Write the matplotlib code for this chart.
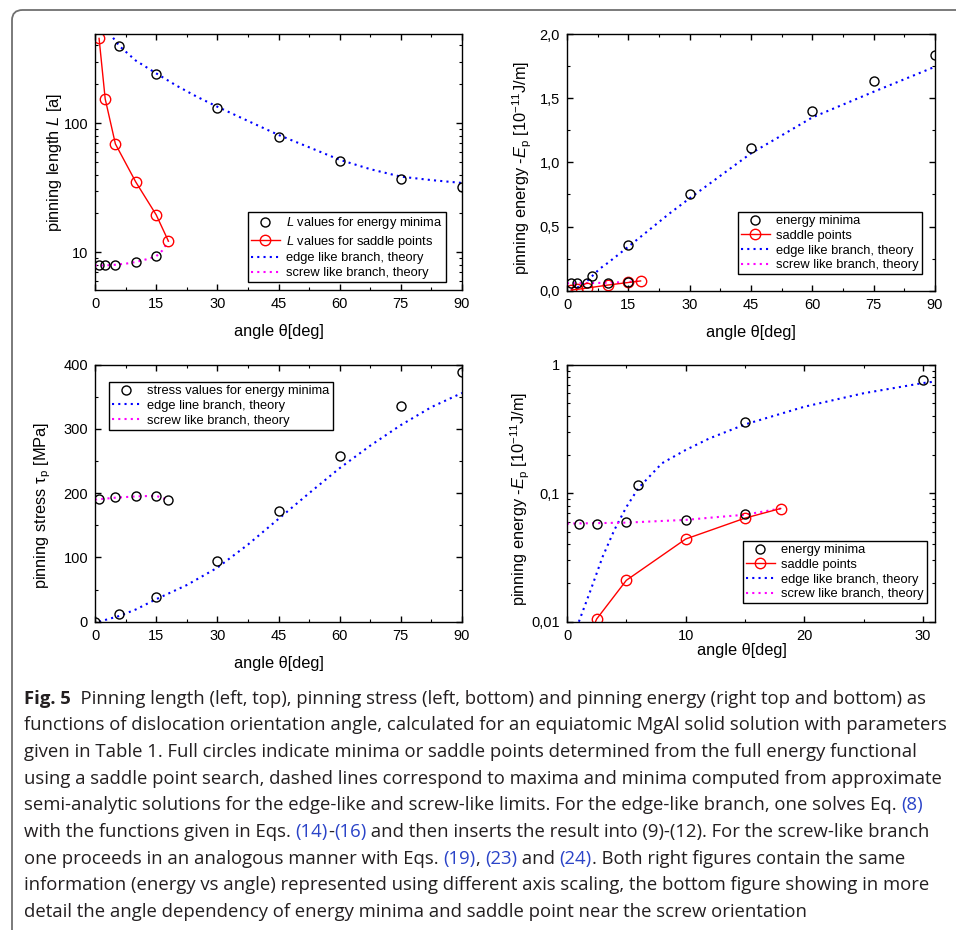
import matplotlib
matplotlib.use('Agg')
import matplotlib.pyplot as plt
from matplotlib.ticker import MultipleLocator, FuncFormatter, NullFormatter
from matplotlib.patches import FancyBboxPatch

plt.rcParams['font.family'] = ['Liberation Sans', 'DejaVu Sans']
plt.rcParams['mathtext.fontset'] = 'custom'
plt.rcParams['mathtext.rm'] = 'Liberation Sans'
plt.rcParams['mathtext.it'] = 'Liberation Sans:italic'

# pinning length L [a]
L_min_ang = [1, 2.5, 5, 6, 10, 15, 15, 30, 45, 60, 75, 90]
L_min = [8.0, 8.0, 8.0, 397, 8.4, 9.3, 240, 131, 78, 51, 37, 32]
L_sad_ang = [1, 2.5, 5, 10, 15, 18]
L_sad = [453, 154, 69, 35, 19.5, 12.2]
L_edge_ang = [3.5, 6, 10, 15, 20, 25, 30, 37.5, 45, 52.5, 60, 67.5, 75, 82.5, 90]
L_edge = [500, 395, 305, 243, 195, 160, 134, 104, 81, 65, 52, 44, 38.5, 36.2, 34.4]
L_screw_ang = [0, 2.5, 5, 7.5, 10, 12.5, 15, 16.5, 18]
L_screw = [7.9, 7.9, 8.0, 8.15, 8.4, 8.8, 9.3, 10.3, 12.2]

# pinning energy -Ep [1e-11 J/m]
E_min_ang = [1, 2.5, 5, 6, 10, 15, 15, 30, 45, 60, 75, 90]
E_min = [0.058, 0.058, 0.060, 0.116, 0.062, 0.069, 0.358, 0.756, 1.109, 1.402, 1.636, 1.839]
E_sad_ang = [1, 2.5, 5, 10, 15, 18]
E_sad = [0.005, 0.0105, 0.021, 0.044, 0.064, 0.076]
E_edge_ang = [1, 2, 3, 4, 5, 6, 8, 10, 12, 15, 20, 25, 30, 45, 60, 75, 90]
E_edge = [0.010, 0.0177, 0.032, 0.052, 0.078, 0.109, 0.171, 0.217, 0.267, 0.343,
          0.471, 0.60, 0.72, 1.07, 1.35, 1.55, 1.745]
E_screw_ang = [0, 2.5, 5, 7.5, 10, 12.5, 15, 18]
E_screw = [0.058, 0.0585, 0.059, 0.0605, 0.062, 0.065, 0.068, 0.076]

# pinning stress tau_p [MPa]
S_min_ang = [0, 1, 5, 10, 15, 18, 6, 15, 30, 45, 60, 75, 90]
S_min = [0, 191, 193.6, 195.6, 195.6, 189, 11.4, 39, 95, 173, 258, 336, 389]
S_edge_ang = [1, 6, 10, 15, 22.5, 30, 37.5, 45, 52.5, 60, 67.5, 75, 82.5, 90]
S_edge = [0, 9, 19, 35, 57, 84, 120, 160, 200, 239, 274, 306, 334, 356]
S_screw_ang = [0, 5, 10, 15, 18]
S_screw = [190, 193, 195, 196, 189]

W, H = 956, 930
fig = plt.figure(figsize=(W / 100, H / 100), dpi=100)


def px_axes(l, t, r, b):
    return fig.add_axes([l / W, 1 - b / H, (r - l) / W, (b - t) / H])


def style(ax):
    ax.tick_params(which='both', direction='in', top=True, right=True, labelsize=10.5, pad=5)
    ax.tick_params(which='major', length=4, width=1)
    ax.tick_params(which='minor', length=2.5, width=0.8)
    for s in ax.spines.values():
        s.set_linewidth(1.0)


def labels(ax, xl, yl, xc, yc):
    ax.set_xlabel(xl, fontsize=11.8, va='center')
    ax.set_ylabel(yl, fontsize=11.8, va='center')
    ax.xaxis.set_label_coords(*xc)
    ax.yaxis.set_label_coords(*yc)


def legend(ax, handles, x, y):
    leg = ax.legend(handles=handles, loc='upper left', bbox_to_anchor=(x / W, 1 - y / H),
                    bbox_transform=fig.transFigure, borderaxespad=0, fancybox=False,
                    edgecolor='black', framealpha=1, fontsize=9.3, handlelength=2.2,
                    handletextpad=0.5, labelspacing=0.2, borderpad=0.25)
    leg.get_frame().set_linewidth(1.0)


comma = FuncFormatter(lambda v, p: f'{v:g}'.replace('.', ','))
comma1 = FuncFormatter(lambda v, p: f'{v:.1f}'.replace('.', ','))
mk = dict(marker='o', mfc='none', ms=6.5, mew=1.0)
edge_kw = dict(color='#0000ff', ls=(0, (1, 2)), lw=1.5)
screw_kw = dict(color='#ff00ff', ls=(0, (1, 2)), lw=1.5)
ang_label = 'angle θ[deg]'
e_label = 'pinning energy -$E_\\mathrm{p}$ [10$^{-11}$J/m]'

# top left: pinning length
ax1 = px_axes(95, 34, 462, 290)
style(ax1)
h3, = ax1.plot(L_edge_ang, L_edge, **edge_kw, label='edge like branch, theory')
h4, = ax1.plot(L_screw_ang, L_screw, **screw_kw, label='screw like branch, theory')
h2, = ax1.plot(L_sad_ang, L_sad, color='#ff0000', lw=1.0, mec='#ff0000', **dict(mk, ms=7.5),
               label='$L$ values for saddle points')
h1, = ax1.plot(L_min_ang, L_min, ls='none', mec='black', **mk, label='$L$ values for energy minima')
ax1.set_yscale('log')
ax1.set_xlim(0, 90)
ax1.set_ylim(5.1, 490)
ax1.xaxis.set_major_locator(MultipleLocator(15))
ax1.xaxis.set_minor_locator(MultipleLocator(7.5))
ax1.yaxis.set_major_formatter(comma)
ax1.yaxis.set_minor_formatter(NullFormatter())
labels(ax1, ang_label, 'pinning length $L$ [a]', (0.5, -0.164), (-0.109, 0.5))
legend(ax1, [h1, h2, h3, h4], 248, 212)

# top right: pinning energy, linear
ax2 = px_axes(567, 34, 935, 290.7)
style(ax2)
g3, = ax2.plot(E_edge_ang, E_edge, **edge_kw, label='edge like branch, theory')
g4, = ax2.plot(E_screw_ang, E_screw, **screw_kw, label='screw like branch, theory')
g2, = ax2.plot(E_sad_ang, E_sad, color='#ff0000', lw=1.0, mec='#ff0000', **dict(mk, ms=7.5),
               label='saddle points')
g1, = ax2.plot(E_min_ang, E_min, ls='none', mec='black', **mk, label='energy minima')
ax2.set_xlim(0, 90)
ax2.set_ylim(0, 2.0)
ax2.xaxis.set_major_locator(MultipleLocator(15))
ax2.xaxis.set_minor_locator(MultipleLocator(7.5))
ax2.yaxis.set_major_locator(MultipleLocator(0.5))
ax2.yaxis.set_minor_locator(MultipleLocator(0.25))
ax2.yaxis.set_major_formatter(comma1)
labels(ax2, ang_label, e_label, (0.5, -0.164), (-0.12, 0.48))
legend(ax2, [g1, g2, g3, g4], 738, 212)

# bottom left: pinning stress
ax3 = px_axes(95, 364.7, 462, 621.7)
style(ax3)
k2, = ax3.plot(S_edge_ang, S_edge, **edge_kw, label='edge line branch, theory')
k3, = ax3.plot(S_screw_ang, S_screw, **screw_kw, label='screw like branch, theory')
k1, = ax3.plot(S_min_ang, S_min, ls='none', mec='black', **mk, label='stress values for energy minima')
ax3.set_xlim(0, 90)
ax3.set_ylim(0, 400)
ax3.xaxis.set_major_locator(MultipleLocator(15))
ax3.xaxis.set_minor_locator(MultipleLocator(7.5))
ax3.yaxis.set_major_locator(MultipleLocator(100))
ax3.yaxis.set_minor_locator(MultipleLocator(50))
labels(ax3, ang_label, 'pinning stress τ$_\\mathrm{p}$ [MPa]', (0.5, -0.162), (-0.142, 0.454))
legend(ax3, [k1, k2, k3], 109, 382)

# bottom right: pinning energy, log scale near screw orientation
ax4 = px_axes(567, 364.7, 935, 621.7)
style(ax4)
m3, = ax4.plot(E_edge_ang, E_edge, **edge_kw, label='edge like branch, theory')
m4, = ax4.plot(E_screw_ang, E_screw, **screw_kw, label='screw like branch, theory')
m2, = ax4.plot(E_sad_ang, E_sad, color='#ff0000', lw=1.0, mec='#ff0000', **dict(mk, ms=7.5),
               label='saddle points')
m1, = ax4.plot(E_min_ang, E_min, ls='none', mec='black', **mk, label='energy minima')
ax4.set_yscale('log')
ax4.set_xlim(0, 31)
ax4.set_ylim(0.01, 1)
ax4.xaxis.set_major_locator(MultipleLocator(10))
ax4.xaxis.set_minor_locator(MultipleLocator(5))
ax4.yaxis.set_major_formatter(comma)
ax4.yaxis.set_minor_formatter(NullFormatter())
labels(ax4, ang_label, e_label, (0.475, -0.114), (-0.128, 0.477))
legend(ax4, [m1, m2, m3, m4], 743, 541)

# caption box
fig.patches.append(FancyBboxPatch((12 / W, -0.1), 1.2, 1 - 10 / H + 0.1,
                                  boxstyle='round,pad=0,rounding_size=0.011',
                                  transform=fig.transFigure, fill=False,
                                  ec='#707070', lw=1.3))

txt = '#231f20'
ref = '#2b44c8'
caption = [
    [('Fig. 5', txt, 'bold'), ('  Pinning length (left, top), pinning stress (left, bottom) and pinning energy (right top and bottom) as', txt, 'normal')],
    [('functions of dislocation orientation angle, calculated for an equiatomic MgAl solid solution with parameters', txt, 'normal')],
    [('given in Table 1. Full circles indicate minima or saddle points determined from the full energy functional', txt, 'normal')],
    [('using a saddle point search, dashed lines correspond to maxima and minima computed from approximate', txt, 'normal')],
    [('semi-analytic solutions for the edge-like and screw-like limits. For the edge-like branch, one solves Eq. ', txt, 'normal'),
     ('(8)', ref, 'normal')],
    [('with the functions given in Eqs. ', txt, 'normal'), ('(14)', ref, 'normal'), ('-', txt, 'normal'),
     ('(16)', ref, 'normal'), (' and then inserts the result into (9)-(12). For the screw-like branch', txt, 'normal')],
    [('one proceeds in an analogous manner with Eqs. ', txt, 'normal'), ('(19)', ref, 'normal'), (', ', txt, 'normal'),
     ('(23)', ref, 'normal'), (' and ', txt, 'normal'), ('(24)', ref, 'normal'),
     ('. Both right figures contain the same', txt, 'normal')],
    [('information (energy vs angle) represented using different axis scaling, the bottom figure showing in more', txt, 'normal')],
    [('detail the angle dependency of energy minima and saddle point near the screw orientation', txt, 'normal')],
]
cap_font = ['Liberation Sans Narrow', 'DejaVu Sans Condensed', 'Open Sans']
r = fig.canvas.get_renderer()


def seg_width(s, size, weight):
    t = fig.text(0, 0, '|' + s + '|', fontsize=size, fontweight=weight, family=cap_font)
    w1 = t.get_window_extent(r).width
    t.remove()
    t = fig.text(0, 0, '||', fontsize=size, fontweight=weight, family=cap_font)
    w0 = t.get_window_extent(r).width
    t.remove()
    return w1 - w0


# fit the caption size to the width of the first line
w10 = sum(seg_width(s, 10, wt) for s, c, wt in caption[0])
cap_size = 10 * 900 / w10

for i, line in enumerate(caption):
    x = 24
    y = 698.5 + i * 26.7
    for s, c, wt in line:
        fig.text(x / W, 1 - y / H, s, fontsize=cap_size, fontweight=wt, color=c,
                 family=cap_font, va='center', ha='left')
        x += seg_width(s, cap_size, wt)

fig.savefig('out.png', dpi=100)
